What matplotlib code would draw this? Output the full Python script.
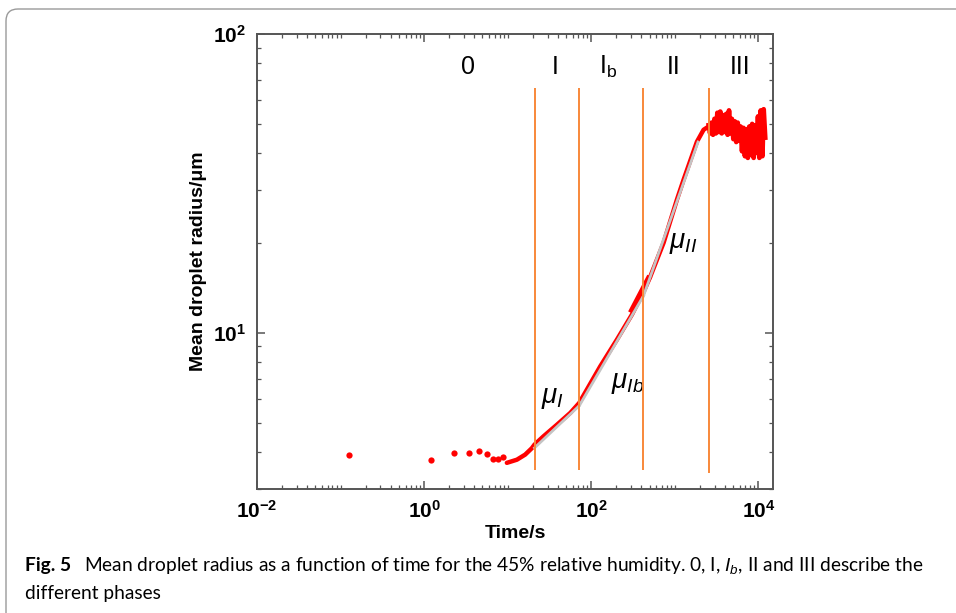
import numpy as np
import matplotlib
matplotlib.use("Agg")
import matplotlib.pyplot as plt
from matplotlib.patches import FancyBboxPatch
from matplotlib.transforms import IdentityTransform

plt.rcParams['font.family'] = ['Liberation Sans', 'DejaVu Sans']
plt.rcParams['mathtext.fontset'] = 'custom'
plt.rcParams['mathtext.rm'] = 'Liberation Sans'
plt.rcParams['mathtext.it'] = 'Liberation Sans:italic'
plt.rcParams['mathtext.bf'] = 'Liberation Sans:bold'

# phase 0: scattered early measurements
dot_t = [0.127, 1.22, 2.31, 3.43, 4.56, 5.63, 6.65, 7.76, 8.77]
dot_r = [3.89, 3.76, 3.96, 3.96, 4.03, 3.93, 3.79, 3.79, 3.83]

# continuous growth curve (phases I, Ib, II)
curve_t = [9.78, 12.9, 16.2, 19.5, 20.9, 26.8, 38.8, 56.1, 71.8, 128, 203,
           307, 423, 509, 735, 1062, 1275, 1844, 2213, 2541]
curve_r = [3.67, 3.76, 3.91, 4.11, 4.22, 4.50, 4.92, 5.39, 5.82, 7.71, 9.48,
           11.5, 13.7, 15.4, 20.0, 27.9, 32.5, 43.6, 47.8, 49.0]

# small overlapping segment near the Ib/II boundary
jog_t = [307, 485]
jog_r = [11.9, 15.2]

# phase III: noisy plateau
plat_t = [2550, 2650, 2760, 2870, 2990, 3110, 3240, 3370, 3510, 3650,
          3800, 3960, 4120, 4290, 4460, 4640, 4830, 5030, 5240, 5450,
          5670, 5900, 6140, 6390, 6650, 6920, 7200, 7500, 7800, 8120,
          8450, 8800, 9160, 9530, 9920, 10300, 10700, 11200, 11600, 12100]
plat_r = [49.5, 46.5, 50.5, 46.0, 52.0, 46.5, 54.5, 47.0, 55.0, 46.5,
          53.5, 47.0, 54.0, 46.0, 55.5, 46.5, 52.0, 44.5, 51.0, 43.5,
          50.5, 44.0, 49.0, 40.5, 48.5, 39.0, 48.0, 38.5, 49.0, 39.5,
          50.0, 38.5, 49.5, 40.0, 53.0, 38.5, 55.5, 39.0, 56.0, 45.0]

# power-law fits (gray)
fit_t = [[21, 72], [72, 423], [423, 1900]]
fit_r = [[4.12, 5.70], [5.70, 13.3], [13.3, 43.5]]

# phase boundaries
vline_t = [21.4, 72, 420, 2590]
vline_lo = [3.48, 3.48, 3.48, 3.40]
vline_hi = [65.9, 65.9, 65.9, 65.9]

phase_labels = ['0', 'I', r'I$_\mathregular{b}$', 'II', 'III']
phase_t = [3.37, 37.1, 160, 959, 6080]
phase_r = 77.6

mu_labels = [r'$\mu_I$', r'$\mu_{Ib}$', r'$\mu_{II}$']
mu_t = [34.1, 270, 1265]
mu_r = [6.07, 6.81, 20.0]

W, H = 956, 613
fig = plt.figure(figsize=(W / 100, H / 100), dpi=100)
ax = fig.add_axes([257 / W, 1 - 489 / H, (773 - 257) / W, (489 - 34) / H])

red = '#ff0000'
ax.plot(dot_t, dot_r, 'o', color=red, ms=4.5, mec='none')
ax.plot(curve_t, curve_r, '-', color=red, lw=3.2, solid_capstyle='round')
ax.plot(jog_t, jog_r, '-', color=red, lw=4)
ax.plot(plat_t, plat_r, '-', color=red, lw=3.4, solid_joinstyle='round')
for ft, fr in zip(fit_t, fit_r):
    ax.plot(ft, fr, '-', color='#c4c4c4', lw=2)
ax.vlines(vline_t, vline_lo, vline_hi, color='#f8883a', lw=1.4, zorder=4)

for lab, t in zip(phase_labels, phase_t):
    ax.text(t, phase_r, lab, ha='center', va='center', fontsize=18)
for lab, t, r in zip(mu_labels, mu_t, mu_r):
    ax.text(t, r, lab, ha='center', va='center', fontsize=20)

ax.set_xscale('log')
ax.set_yscale('log')
ax.set_xlim(1e-2, 1.5e4)
ax.set_ylim(3.0, 100)

ax.set_xticks([1e-2, 1, 1e2, 1e4])
ax.set_xticklabels([r'$\mathbf{10^{-2}}$', r'$\mathbf{10^{0}}$',
                    r'$\mathbf{10^{2}}$', r'$\mathbf{10^{4}}$'])
xminor = [k * 10.0 ** d for d in range(-2, 5) for k in range(1, 10)
          if not (k == 1 and d % 2 == 0)]
ax.set_xticks([v for v in xminor if v <= 1.5e4], minor=True)
ax.set_yticks([10, 100])
ax.set_yticklabels([r'$\mathbf{10^{1}}$', r'$\mathbf{10^{2}}$'])
ax.set_yticks([3, 4, 5, 6, 7, 8, 9, 20, 30, 40, 50, 60, 70, 80, 90], minor=True)
ax.yaxis.set_minor_formatter(plt.NullFormatter())
ax.xaxis.set_minor_formatter(plt.NullFormatter())

spine_c = '#555555'
for s in ax.spines.values():
    s.set_color(spine_c)
    s.set_linewidth(1.4)
ax.tick_params(which='both', direction='in', top=True, right=True,
               color=spine_c, labelsize=15)
ax.tick_params(which='major', length=6, width=1.1, pad=8)
ax.tick_params(which='minor', length=3, width=0.9)

ax.set_xlabel('Time/s', fontsize=14, fontweight='bold', labelpad=2)
ax.set_ylabel('Mean droplet radius/μm', fontsize=14, fontweight='bold', labelpad=4)

# page frame and caption
frame = FancyBboxPatch((6, -60), 1100, H - 9 + 60,
                       boxstyle='round,pad=0,rounding_size=12',
                       transform=IdentityTransform(), fc='none',
                       ec='#9a9a9a', lw=1.0)
fig.add_artist(frame)
cap_font = ['Lato', 'DejaVu Sans']
fig.text(25 / W, 1 - 566 / H, 'Fig. 5', fontsize=13.8, fontweight='bold',
         family=cap_font, va='center')
fig.text(84 / W, 1 - 566 / H,
         r'Mean droplet radius as a function of time for the 45% relative humidity. '
         r'0, I, $\mathit{I_b}$, II and III describe the',
         fontsize=13.8, family=cap_font, va='center')
fig.text(25 / W, 1 - 593 / H, 'different phases', fontsize=13.8,
         family=cap_font, va='center')

fig.savefig('out.png', dpi=100)
